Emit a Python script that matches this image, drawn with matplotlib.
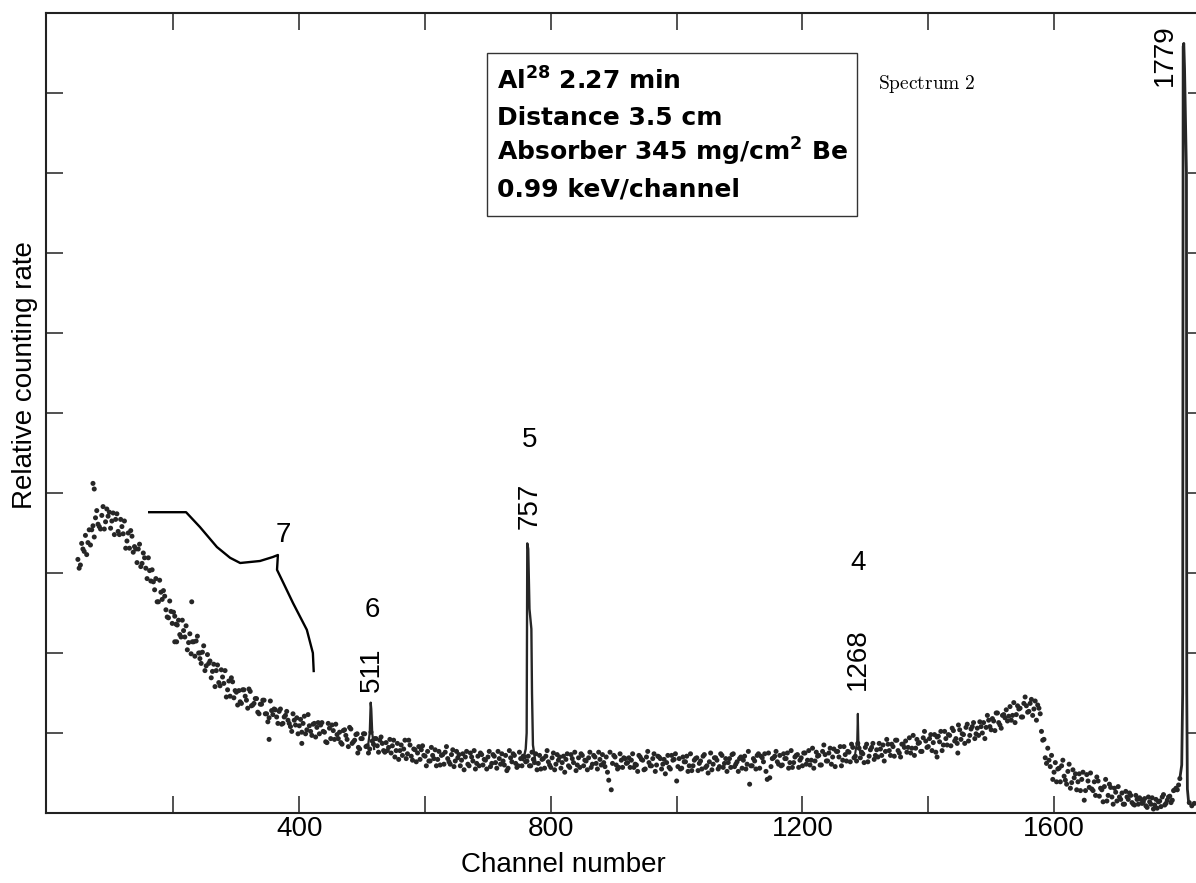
import numpy as np
import matplotlib
matplotlib.use('Agg')
import matplotlib.pyplot as plt
from matplotlib.patches import Rectangle
from matplotlib.ticker import FixedLocator, NullFormatter

plt.rcParams['font.family'] = ['Liberation Sans', 'DejaVu Sans']
plt.rcParams['mathtext.fontset'] = 'custom'
plt.rcParams['mathtext.rm'] = 'DejaVu Sans'
plt.rcParams['mathtext.bf'] = 'DejaVu Sans:bold'
plt.rcParams['mathtext.it'] = 'DejaVu Sans:italic'

# ---------------- data (channel, relative counting rate) ----------------
STEP = 4
# first pass: channels 48, 52, ...
seg_a_v = [3.17, 3.10, 3.30, 3.47, 3.38, 3.35, 3.59, 3.69, 3.61, 3.55, 3.83, 3.64,
           3.71, 3.56, 3.75, 3.67, 3.52, 3.67, 3.49, 3.31, 3.50, 3.53, 3.26, 3.30]
seg_b_v = [3.30, 3.08, 3.25, 3.06, 3.19, 2.90, 2.89, 2.93, 2.64, 2.76,
           2.78, 2.54, 2.44, 2.52, 2.51, 2.36, 2.41, 2.20, 2.28, 2.34,
           2.13, 1.99, 2.14, 2.15, 2.00, 1.87, 2.09, 1.84, 1.87, 1.69,
           1.86, 1.78, 1.63, 1.79, 1.62, 1.45, 1.65, 1.69, 1.44, 1.51]
seg_c_v = [1.53, 1.37, 1.54, 1.41, 1.55, 1.34, 1.37, 1.43, 1.24, 1.36,
           1.41, 1.24, 1.19, 1.28, 1.30, 1.20, 1.27, 1.11, 1.20, 1.27,
           1.12, 1.02, 1.16, 1.19, 1.09, 1.01, 1.21, 1.04, 1.09, 0.97,
           1.12, 1.07, 0.99, 1.13, 1.01, 0.88, 1.06, 1.10, 0.92, 0.98,
           1.01, 0.86, 1.04, 0.92, 1.07, 0.87, 0.91, 0.99, 0.80, 0.93,
           0.99, 0.84, 0.80, 0.90, 0.93, 0.84, 0.91, 0.87, 0.76, 0.78,
           0.92, 0.84, 0.70, 0.87, 0.78, 0.72, 0.91, 0.74, 0.85, 0.66,
           0.79, 0.75, 0.67, 0.84, 0.71]
seg_d_v = [0.77, 0.65, 0.72, 0.79, 0.67, 0.60, 0.73, 0.76, 0.68, 0.61,
           0.79, 0.65, 0.69, 0.59, 0.74, 0.70, 0.61, 0.75, 0.65, 0.55,
           0.71, 0.75, 0.60, 0.66, 0.70,
           0.58, 0.73, 0.63, 0.77, 0.61, 0.65, 0.72, 0.56, 0.69, 0.74,
           0.62, 0.59, 0.68, 0.71, 0.64, 0.71, 0.59, 0.67, 0.74, 0.62,
           0.55, 0.68, 0.71, 0.64, 0.57, 0.75, 0.61, 0.66, 0.56, 0.71,
           0.67, 0.59, 0.73, 0.63, 0.53, 0.69, 0.74, 0.59, 0.65, 0.69,
           0.57, 0.72, 0.62, 0.76, 0.60, 0.63, 0.70, 0.41, 0.29, 0.72,
           0.60, 0.57, 0.66, 0.69, 0.62, 0.69, 0.66, 0.57, 0.60, 0.72,
           0.67, 0.54, 0.70, 0.63, 0.59, 0.74, 0.60, 0.70, 0.55, 0.67,
           0.63, 0.57, 0.72, 0.67, 0.40,
           0.68, 0.56, 0.64, 0.71, 0.59, 0.53, 0.66, 0.69, 0.62, 0.55,
           0.73, 0.59, 0.64, 0.54, 0.69, 0.66, 0.58, 0.72, 0.62, 0.52,
           0.68, 0.73, 0.58, 0.64, 0.68, 0.56, 0.71, 0.61, 0.36, 0.59,
           0.65, 0.72, 0.56, 0.69, 0.74, 0.42, 0.44, 0.68, 0.71, 0.64,
           0.72, 0.60, 0.68, 0.75, 0.63, 0.57, 0.70, 0.73, 0.66, 0.59]
seg_e_v = [0.75, 0.66, 0.60, 0.81, 0.65, 0.71, 0.60, 0.77, 0.73, 0.65,
           0.81, 0.70, 0.58, 0.77, 0.83, 0.66, 0.73, 0.77, 0.64, 0.82,
           0.71, 0.87, 0.69, 0.74, 0.82, 0.64, 0.79, 0.87, 0.72, 0.70,
           0.80, 0.85, 0.77, 0.86, 0.72, 0.83, 0.91, 0.78, 0.70, 0.86,
           0.90, 0.82, 0.75, 0.97, 0.81, 0.87, 0.77, 0.94, 0.90, 0.83,
           0.98, 0.88, 0.76, 0.96, 1.02, 0.85, 0.93, 0.98, 0.84, 1.03,
           0.93, 1.10, 0.92, 0.98, 1.07, 0.90, 1.05, 1.13, 0.99, 0.97,
           1.08, 1.13, 1.07, 1.16, 1.04, 1.15, 1.25, 1.13, 1.06, 1.23,
           1.29, 1.21, 1.16, 1.38, 1.23, 1.30, 1.20, 1.37, 1.34, 1.27,
           1.42, 1.30, 1.16, 1.31, 1.02]
seg_f_v = [0.92, 0.62, 0.66, 0.72, 0.51, 0.39, 0.56, 0.59, 0.46, 0.36,
           0.61, 0.38, 0.44, 0.29, 0.49, 0.42, 0.16, 0.48, 0.32, 0.30,
           0.39, 0.45, 0.21, 0.29, 0.33, 0.15, 0.36, 0.20, 0.31, 0.15,
           0.20, 0.25, 0.11, 0.20, 0.25, 0.13, 0.10, 0.17, 0.19, 0.12,
           0.18, 0.07, 0.14, 0.19, 0.10, 0.06, 0.15, 0.20, 0.10, 0.16,
           0.21, 0.16, 0.29, 0.29, 0.43]

# second pass: channels 50, 54, ...
seg_a2_v = [3.06, 3.37, 3.27, 3.23, 3.54, 3.54, 3.45, 3.78, 3.58, 3.72, 3.55, 3.80,
            3.76, 3.65, 3.48, 3.74, 3.48, 3.58, 3.65, 3.40, 3.31, 3.46, 3.33, 3.13]
seg_b2_v = [3.36, 3.12, 3.19, 2.93, 3.03, 3.04, 2.79, 2.64, 2.91, 2.67,
            2.71, 2.45, 2.65, 2.37, 2.46, 2.35, 2.23, 2.41, 2.20, 2.04,
            2.24, 2.14, 1.96, 2.21, 1.93, 2.01, 1.78, 1.98, 1.90, 1.77,
            1.58, 1.85, 1.59, 1.70, 1.78, 1.54, 1.46, 1.64, 1.53, 1.35]
seg_c2_v = [1.39, 1.54, 1.46, 1.31, 1.52, 1.35, 1.43, 1.26, 1.36, 1.41,
            1.24, 1.14, 1.40, 1.23, 1.29, 1.12, 1.30, 1.12, 1.22, 1.16,
            1.08, 1.24, 1.10, 0.99, 1.17, 1.12, 0.99, 1.23, 1.02, 1.11,
            0.95, 1.13, 1.10, 1.02, 0.89, 1.12, 0.93, 1.03, 1.11, 0.93,
            0.88, 1.03, 0.97, 0.83, 1.05, 0.89, 0.98, 0.82, 0.93, 0.99,
            0.83, 0.75, 1.01, 0.86, 0.93, 0.76, 0.95, 0.78, 0.88, 0.82,
            0.75, 0.91, 0.78, 0.67, 0.85, 0.80, 0.68, 0.91, 0.71, 0.80,
            0.64, 0.83, 0.79, 0.72, 0.59]
seg_d2_v = [0.65, 0.82, 0.68, 0.59, 0.77, 0.72, 0.61, 0.83, 0.64, 0.73,
            0.58, 0.77, 0.73, 0.66, 0.54, 0.77, 0.59, 0.70, 0.78, 0.62,
            0.59, 0.73, 0.67, 0.55, 0.77,
            0.62, 0.71, 0.56, 0.68, 0.74, 0.60, 0.53, 0.78, 0.64, 0.72,
            0.57, 0.76, 0.59, 0.70, 0.65,
            0.59, 0.76, 0.63, 0.54, 0.72, 0.67, 0.56, 0.78, 0.60, 0.69,
            0.54, 0.73, 0.70, 0.63, 0.51, 0.74, 0.57, 0.68, 0.76, 0.60,
            0.57, 0.72, 0.66, 0.54, 0.76, 0.61, 0.70, 0.55, 0.67, 0.73,
            0.58, 0.51, 0.76, 0.62, 0.70, 0.55, 0.74, 0.57, 0.68, 0.63,
            0.57, 0.74, 0.61, 0.52, 0.70, 0.66, 0.55, 0.77, 0.59, 0.68,
            0.52, 0.71, 0.68, 0.61, 0.49, 0.72, 0.55, 0.66, 0.74, 0.58,
            0.55, 0.70, 0.64, 0.52, 0.74, 0.59, 0.68, 0.53, 0.65, 0.71,
            0.57, 0.50, 0.75, 0.61, 0.69, 0.55, 0.74, 0.57, 0.68, 0.63,
            0.57, 0.74, 0.61, 0.52, 0.70, 0.66, 0.55, 0.77, 0.59, 0.68,
            0.55, 0.74, 0.71, 0.64, 0.52, 0.75, 0.58, 0.69, 0.77, 0.61,
            0.59, 0.74, 0.68, 0.56, 0.78, 0.63, 0.72, 0.57, 0.69, 0.75]
seg_e2_v = [0.61, 0.78, 0.66, 0.56, 0.76, 0.72, 0.60, 0.85, 0.65, 0.75,
            0.61, 0.80, 0.77, 0.70, 0.59, 0.83, 0.65, 0.76, 0.86, 0.69,
            0.65, 0.81, 0.76, 0.63, 0.86, 0.71, 0.82, 0.67, 0.79, 0.87,
            0.72, 0.65, 0.92, 0.78, 0.86, 0.71, 0.91, 0.75, 0.86, 0.82,
            0.76, 0.94, 0.81, 0.72, 0.92, 0.88, 0.77, 1.02, 0.82, 0.93,
            0.78, 0.98, 0.95, 0.89, 0.78, 1.02, 0.85, 0.97, 1.06, 0.90,
            0.87, 1.04, 0.99, 0.87, 1.11, 0.97, 1.08, 0.93, 1.06, 1.14,
            1.00, 0.93, 1.22, 1.08, 1.18, 1.03, 1.25, 1.10, 1.22, 1.19,
            1.15, 1.33, 1.22, 1.13, 1.34, 1.31, 1.20, 1.45, 1.26, 1.37,
            1.22, 1.40, 1.35, 1.24, 0.91]
seg_f2_v = [0.69, 0.81, 0.58, 0.42, 0.63, 0.55, 0.39, 0.66, 0.41, 0.52,
            0.31, 0.54, 0.49, 0.39, 0.28, 0.51, 0.28, 0.40, 0.50, 0.28,
            0.22, 0.40, 0.31, 0.14, 0.42, 0.22, 0.32, 0.11, 0.26, 0.33,
            0.17, 0.11, 0.27, 0.17, 0.22, 0.11, 0.22, 0.11, 0.17, 0.14,
            0.09, 0.20, 0.11, 0.05, 0.17, 0.14, 0.08, 0.23, 0.12, 0.20,
            0.13, 0.28, 0.31, 0.35]

tail_ch = [1815, 1819, 1823]
tail_v = [0.13, 0.09, 0.12]
stray_ch = [72, 74, 202, 205, 229, 242, 352, 404, 493, 1414, 1447]
stray_v = [4.12, 4.05, 2.14, 2.14, 2.64, 2.00, 0.92, 0.87, 0.75, 0.70, 0.75]

pass1_ch = np.arange(48, 1801, STEP)
pass1_v = seg_a_v + seg_b_v + seg_c_v + seg_d_v + seg_e_v + seg_f_v
pass2_ch = np.arange(50, 1799, STEP)
pass2_v = seg_a2_v + seg_b2_v + seg_c2_v + seg_d2_v + seg_e2_v + seg_f2_v

cont_ch = np.concatenate([pass1_ch, pass2_ch, tail_ch, stray_ch])
cont_v = np.concatenate([pass1_v, pass2_v, tail_v, stray_v])

# photopeaks
peak511_ch = [509, 512, 513.5, 514.5, 516, 519]
peak511_v = [0.82, 1.00, 1.38, 1.30, 1.00, 0.80]
peak757_ch = [756, 760, 761.5, 762.5, 764, 766, 769, 770, 771.5, 775]
peak757_v = [0.66, 0.80, 1.00, 3.37, 3.30, 2.55, 2.30, 1.50, 0.85, 0.66]
peak1268_ch = [1284, 1287, 1288, 1289, 1292]
peak1268_v = [0.75, 0.90, 1.24, 0.90, 0.74]
peak1779_ch = [1800, 1803, 1804.5, 1805.3, 1806.3, 1807.5, 1810.5, 1811, 1812, 1814]
peak1779_v = [0.43, 0.60, 1.50, 9.58, 9.62, 9.30, 8.00, 1.50, 0.30, 0.13]

# bracket marking the Compton region (7)
bracket_ch = [159.5, 220, 242, 269, 290, 306, 337.5, 358, 366, 364.6, 372.6, 390, 412, 421.6, 423]
bracket_v = [3.76, 3.76, 3.575, 3.325, 3.19, 3.125, 3.15, 3.20, 3.225, 3.04, 2.91, 2.625, 2.29, 2.0, 1.76]

x_major = [400, 800, 1200, 1600]
x_minor = [200, 600, 1000, 1400]
y_ticks = [1, 2, 3, 4, 5, 6, 7, 8, 9]

# ---------------- figure ----------------
W, H = 1196, 883
fig = plt.figure(figsize=(W / 100, H / 100), dpi=100)
ax = fig.add_axes([46 / W, 70 / H, 1159 / W, 800 / H])
ax.set_xlim(-2.7, 1840)
ax.set_ylim(0, 10)

dot = '#262626'
ax.scatter(cont_ch, cont_v, s=13, c=dot, edgecolors='none', zorder=3)
for pc, pv, lw in [(peak511_ch, peak511_v, 1.6), (peak757_ch, peak757_v, 1.7),
                   (peak1268_ch, peak1268_v, 1.5), (peak1779_ch, peak1779_v, 2.0)]:
    ax.plot(pc, pv, color=dot, lw=lw, zorder=3)
ax.plot(bracket_ch, bracket_v, color='black', lw=1.7, solid_capstyle='butt')

# spines & ticks
for s in ax.spines.values():
    s.set_linewidth(1.5)
    s.set_color('#222222')
ax.xaxis.set_major_locator(FixedLocator(x_major))
ax.xaxis.set_minor_locator(FixedLocator(x_minor))
ax.xaxis.set_minor_formatter(NullFormatter())
ax.yaxis.set_major_locator(FixedLocator(y_ticks))
ax.yaxis.set_major_formatter(NullFormatter())
ax.tick_params(axis='both', which='both', direction='in', length=12, width=1.1,
               top=True, right=True, color='#222222')
ax.tick_params(axis='x', which='major', labelsize=20, pad=2.5)

ax.set_xlabel('Channel number', fontsize=20)
ax.xaxis.set_label_coords((563 - 46) / 1159, -0.049)
ax.set_ylabel('Relative counting rate', fontsize=20, va='center')
ax.yaxis.set_label_coords((25 - 46) / 1159, 0.5475)

# peak annotations
fs = 20
ax.text(374, 3.475, '7', fontsize=fs, ha='center', va='center')
ax.text(515.6, 2.54, '6', fontsize=fs, ha='center', va='center')
ax.text(515.6, 1.79, '511', fontsize=fs, ha='center', va='center', rotation=90)
ax.text(766.8, 4.66, '5', fontsize=fs, ha='center', va='center')
ax.text(766.8, 3.84, '757', fontsize=fs, ha='center', va='center', rotation=90)
ax.text(1288, 3.125, '4', fontsize=fs, ha='center', va='center')
ax.text(1288, 1.925, '1268', fontsize=fs, ha='center', va='center', rotation=90)
ax.text(1776, 9.475, '1779', fontsize=fs, ha='center', va='center', rotation=90)

# info box
ax.add_patch(Rectangle((698.4, 7.46), 588.2, 2.04, fill=False, lw=1.0, ec='#333333', zorder=4))
box_lines = [r'Al$^{\mathbf{28}}$ 2.27 min', 'Distance 3.5 cm',
             r'Absorber 345 mg/cm$^{\mathbf{2}}$ Be', '0.99 keV/channel']
box_y = [9.04, 8.60, 8.16, 7.71]
for t, yy in zip(box_lines, box_y):
    ax.text(714, yy, t, fontsize=18, fontweight='bold', family='DejaVu Sans',
            ha='left', va='baseline')

ax.text(1320, 9.05, r'$\mathrm{Spectrum\ 2}$', fontsize=14, math_fontfamily='cm',
        ha='left', va='baseline')

fig.savefig('out.png', dpi=100)
